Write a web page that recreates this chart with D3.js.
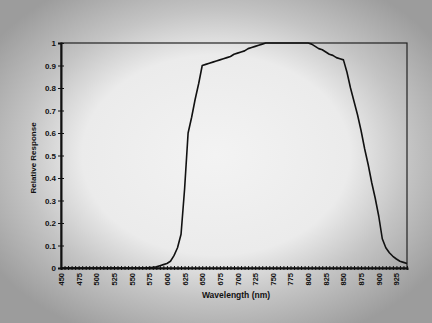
<!DOCTYPE html>
<html>
<head>
<meta charset="utf-8">
<script src="https://cdn.jsdelivr.net/npm/d3@7"></script>
<style>
  html, body { margin: 0; padding: 0; background: #aaa; }
  svg { display: block; }
</style>
</head>
<body>
<div id="chart"></div>
<script>
// wavelength in nm, 5 nm steps
const wavelengths = d3.range(450, 945, 5);
const response = [
  0, 0, 0, 0, 0, 0, 0, 0, 0, 0,            // 450-495
  0, 0, 0, 0, 0, 0, 0, 0, 0, 0,            // 500-545
  0, 0, 0, 0, 0, 0.002, 0.003, 0.005, 0.01, 0.015, // 550-595
  0.02, 0.03, 0.055, 0.09, 0.15, 0.35, 0.6, 0.67, 0.75, 0.82, // 600-645
  0.9, 0.905, 0.91, 0.915, 0.92, 0.925, 0.93, 0.935, 0.94, 0.95, // 650-695
  0.955, 0.96, 0.965, 0.975, 0.98, 0.985, 0.99, 0.995, 1.0, 1.0, // 700-745
  1.0, 1.0, 1.0, 1.0, 1.0, 1.0, 1.0, 1.0, 1.0, 1.0, // 750-795
  1.0, 0.995, 0.985, 0.975, 0.97, 0.96, 0.95, 0.945, 0.935, 0.93, // 800-845
  0.925, 0.87, 0.8, 0.74, 0.68, 0.61, 0.53, 0.46, 0.38, 0.31, // 850-895
  0.23, 0.13, 0.09, 0.068, 0.052, 0.04, 0.03, 0.025, 0.02 // 900-940
];
const xTickLabels = d3.range(450, 950, 25);
const yTickLabels = [0, 0.1, 0.2, 0.3, 0.4, 0.5, 0.6, 0.7, 0.8, 0.9, 1];

const W = 432, H = 323;
const margin = { top: 43, right: 25, bottom: 55, left: 61 };

const svg = d3.select('#chart').append('svg')
  .attr('width', W)
  .attr('height', H);

// photo-like vignette background
const defs = svg.append('defs');
const grad = defs.append('radialGradient')
  .attr('id', 'vignette')
  .attr('cx', '0.5').attr('cy', '0.48')
  .attr('r', '0.62');
grad.append('stop').attr('offset', '0%').attr('stop-color', '#f3f3f3');
grad.append('stop').attr('offset', '50%').attr('stop-color', '#ebebeb');
grad.append('stop').attr('offset', '72%').attr('stop-color', '#c4c4c4');
grad.append('stop').attr('offset', '100%').attr('stop-color', '#9c9c9c');
svg.append('rect')
  .attr('width', W).attr('height', H)
  .attr('fill', 'url(#vignette)');

const x = d3.scaleLinear()
  .domain([450, 940])
  .range([margin.left, W - margin.right]);
const y = d3.scaleLinear()
  .domain([0, 1])
  .range([H - margin.bottom, margin.top]);

// plot frame (top and right)
svg.append('rect')
  .attr('x', x(450)).attr('y', y(1))
  .attr('width', x(940) - x(450))
  .attr('height', y(0) - y(1))
  .attr('fill', 'none')
  .attr('stroke', '#222')
  .attr('stroke-width', 1.2);

// y axis
const yAxis = svg.append('g')
  .attr('transform', `translate(${x(450)},0)`)
  .call(d3.axisLeft(y).tickValues(yTickLabels).tickSize(3)
    .tickFormat(d => d3.format('')(+d.toFixed(1))));
yAxis.selectAll('.tick line').attr('x2', 3).attr('x1', -3).attr('stroke', '#111');
yAxis.select('.domain').attr('stroke', '#111').attr('stroke-width', 2);
yAxis.selectAll('text')
  .attr('x', -5)
  .style('font-family', '"Liberation Sans", Arial, sans-serif')
  .style('font-size', '8px')
  .style('font-weight', 'bold')
  .style('fill', '#111');

// x axis: minor ticks every 5 nm, labels every 25 nm
const xAxis = svg.append('g')
  .attr('transform', `translate(0,${y(0)})`)
  .call(d3.axisBottom(x).tickValues(wavelengths).tickSize(2).tickFormat(''));
xAxis.selectAll('.tick line').attr('y1', -2).attr('y2', 2).attr('stroke', '#111');
xAxis.select('.domain').attr('stroke', '#111').attr('stroke-width', 2);

svg.append('g')
  .selectAll('text')
  .data(xTickLabels)
  .enter()
  .append('text')
  .attr('transform', d => `translate(${x(d) + 3},${y(0) + 5}) rotate(-90)`)
  .attr('text-anchor', 'end')
  .style('font-family', '"Liberation Sans", Arial, sans-serif')
  .style('font-size', '7.5px')
  .style('font-weight', 'bold')
  .style('fill', '#111')
  .text(d => d);

// curve
const line = d3.line()
  .x((d, i) => x(wavelengths[i]))
  .y(d => y(d));
svg.append('path')
  .datum(response)
  .attr('d', line)
  .attr('fill', 'none')
  .attr('stroke', '#111')
  .attr('stroke-width', 1.6)
  .attr('stroke-linejoin', 'round');

// axis titles
svg.append('text')
  .attr('x', 236).attr('y', 298)
  .attr('text-anchor', 'middle')
  .style('font-family', '"Liberation Sans", Arial, sans-serif')
  .style('font-size', '8.5px')
  .style('font-weight', 'bold')
  .style('fill', '#111')
  .text('Wavelength (nm)');

svg.append('text')
  .attr('transform', 'translate(36,158) rotate(-90)')
  .attr('text-anchor', 'middle')
  .style('font-family', '"Liberation Sans", Arial, sans-serif')
  .style('font-size', '8px')
  .style('font-weight', 'bold')
  .style('fill', '#111')
  .text('Relative Response');
</script>
</body>
</html>
